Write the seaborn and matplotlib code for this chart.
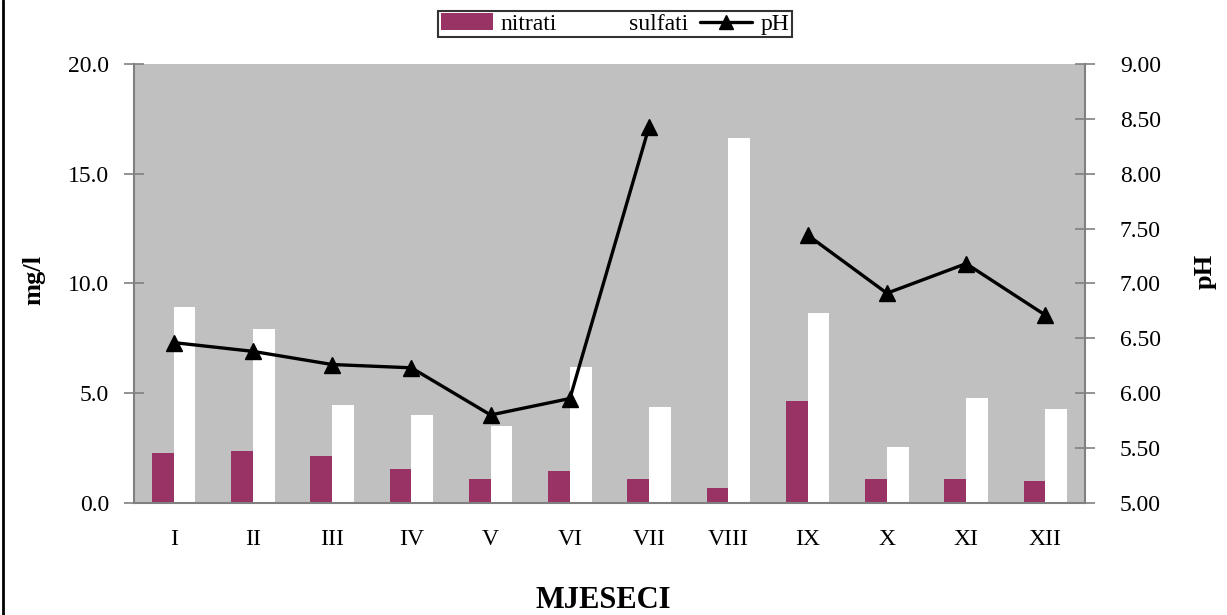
import numpy as np
import pandas as pd
import matplotlib
matplotlib.use("Agg")
import matplotlib.pyplot as plt
from matplotlib.patches import Patch
from matplotlib.lines import Line2D
from matplotlib.ticker import FormatStrFormatter, FixedLocator
import seaborn as sns

# data
mjeseci = ["I", "II", "III", "IV", "V", "VI", "VII", "VIII", "IX", "X", "XI", "XII"]
nitrati = [2.28, 2.37, 2.12, 1.52, 1.08, 1.43, 1.08, 0.66, 4.62, 1.08, 1.08, 0.99]
sulfati = [8.93, 7.90, 4.44, 4.01, 3.50, 6.17, 4.36, 16.61, 8.66, 2.54, 4.77, 4.27]
ph = [6.46, 6.38, 6.26, 6.23, 5.80, 5.95, 8.43, np.nan, 7.44, 6.91, 7.18, 6.71]

df = pd.DataFrame({
    "mjesec": mjeseci * 2,
    "vrijednost": nitrati + sulfati,
    "serija": ["nitrati"] * 12 + ["sulfati"] * 12,
})

sns.set_style("white")
plt.rcParams["font.family"] = ["Liberation Serif", "DejaVu Serif"]
plt.rcParams["text.color"] = "black"
plt.rcParams["xtick.labelcolor"] = "black"
plt.rcParams["ytick.labelcolor"] = "black"

fig = plt.figure(figsize=(12.27, 6.15), dpi=100)
ax = fig.add_axes([0.1092, 0.1826, 0.7751, 0.7133])
ax.set_facecolor("#c0c0c0")

sns.barplot(data=df, x="mjesec", y="vrijednost", hue="serija",
            palette=["#993366", "#ffffff"], width=0.55, saturation=1,
            linewidth=0, ax=ax, legend=False)

ax.set_xlim(-0.5, 11.5)
ax.set_ylim(0, 20)
ax.set_yticks([0, 5, 10, 15, 20])
ax.yaxis.set_major_formatter(FormatStrFormatter("%.1f"))
ax.set_xlabel("")
ax.set_ylabel("")

ax.xaxis.set_minor_locator(FixedLocator(np.arange(-0.5, 12, 1)))
ax.tick_params(axis="x", which="major", length=0, pad=19, labelsize=17)
ax.tick_params(axis="x", which="minor", length=8, width=1.2, color="#808080", direction="out")
ax.tick_params(axis="y", which="major", length=14, width=1.2, color="#808080",
               direction="inout", pad=11, labelsize=17, left=True)

for s in ["top", "right"]:
    ax.spines[s].set_visible(False)
for s in ["left", "bottom"]:
    ax.spines[s].set_color("#808080")
    ax.spines[s].set_linewidth(1.5)

ax2 = ax.twinx()
ax2.plot(np.arange(12), ph, color="black", linewidth=2.4,
         marker="^", markersize=12, markerfacecolor="black", markeredgecolor="black")
ax2.set_ylim(5, 9)
ax2.set_yticks(np.arange(5, 9.01, 0.5))
ax2.yaxis.set_major_formatter(FormatStrFormatter("%.2f"))
ax2.tick_params(axis="y", which="major", length=14, width=1.2, color="#808080",
                direction="inout", pad=18, labelsize=17, right=True)
for s in ["top", "left", "bottom"]:
    ax2.spines[s].set_visible(False)
ax2.spines["right"].set_color("#808080")
ax2.spines["right"].set_linewidth(1.5)
ax2.grid(False)
ax.grid(False)

fig.text(34 / 1227, 1 - 280 / 615, "mg/l", rotation=90, ha="center", va="center",
         fontsize=19, fontweight="bold")
fig.text(1205 / 1227, 1 - 271 / 615, "pH", rotation=90, ha="center", va="center",
         fontsize=19, fontweight="bold")
fig.text(603 / 1227, 1 - 600 / 615, "MJESECI", ha="center", va="center",
         fontsize=22, fontweight="bold")

handles = [
    Patch(facecolor="#993366", edgecolor="none", label="nitrati"),
    Patch(facecolor="white", edgecolor="none", label="sulfati"),
    Line2D([], [], color="black", linewidth=2.4, marker="^", markersize=10, label="pH"),
]
leg = fig.legend(handles=handles, loc="center", bbox_to_anchor=(615 / 1227, 1 - 24 / 615),
                 ncol=3, fontsize=17, frameon=True, fancybox=False, edgecolor="black",
                 borderpad=0.1, handlelength=2.2, handletextpad=0.35, columnspacing=0.5,
                 borderaxespad=0)
leg.get_frame().set_linewidth(1.5)

fig.add_artist(Line2D([3 / 1227, 3 / 1227], [0, 1], color="black", linewidth=2,
                      transform=fig.transFigure))

fig.savefig("out.png", dpi=100)
